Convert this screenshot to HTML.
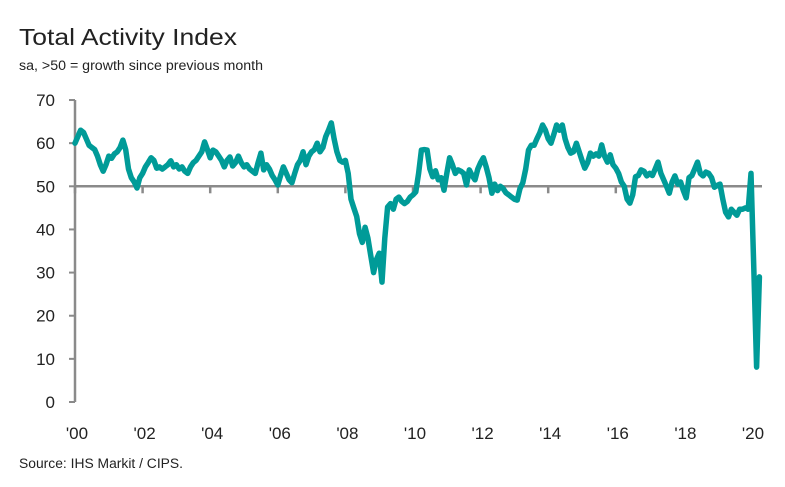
<!DOCTYPE html>
<html><head><meta charset="utf-8"><style>
body{margin:0;background:#fff;font-family:"Liberation Sans",sans-serif;}
svg{display:block}
</style></head><body>
<svg width="785" height="487" viewBox="0 0 785 487">
<text x="19" y="45" font-size="23" fill="#222" font-family="Liberation Sans, sans-serif" textLength="218" lengthAdjust="spacingAndGlyphs">Total Activity Index</text>
<text x="19" y="70" font-size="13.5" fill="#222" font-family="Liberation Sans, sans-serif" textLength="244" lengthAdjust="spacingAndGlyphs">sa, &gt;50 = growth since previous month</text>
<text x="19" y="468" font-size="13.5" fill="#222" font-family="Liberation Sans, sans-serif" textLength="164" lengthAdjust="spacingAndGlyphs">Source: IHS Markit / CIPS.</text>
<g id="axes"></g>
<g id="series"></g>
</svg>
<script>
const yTicks=[0,10,20,30,40,50,60,70];
const xTickLabels=["'00","'02","'04","'06","'08","'10","'12","'14","'16","'18","'20"];
const startYear=2000;
const values=[
60,61.5,63,62.5,61,59.5,59,58.5,57,55,53.5,55,
57,56.5,57.5,58,59,60.7,58.5,54,52,51,49.6,52,
53,54.5,55.5,56.6,56,54.2,54.5,54,54.5,55,55.9,54.5,
55,54,54.5,53.5,53,54.5,55.5,56,57,58,60.3,58.5,
56.6,58.4,58,57,56,54.5,56,56.8,54.7,55.5,57,55.5,
54.5,55,54,53.5,53,55.5,57.7,53.8,55,54,52.5,51.5,
50.3,52.5,54.5,53,51.5,50.8,53,55,56,58,55,57,
58,58.5,60,58,59,61.5,63,64.7,61,58,56,55.6,
56,53,47,45,43,39,37,40.5,38,34,30,33,
34.5,27.8,38,45.2,46,44.7,47,47.5,46.5,46,46.5,47.5,
48,48.7,53,58.4,58.5,58.4,54,52.2,53.6,51.5,52,49.1,
53,56.6,55,53,53.8,53.5,53,50.3,53.8,52.5,51.5,54,
55.5,56.6,54.5,52,48.4,50.5,49,50,49.5,48.5,48,47.5,
47,46.8,49.5,50.8,54,58.4,59.5,59.5,61,62.4,64.2,63,
61,60,62,64.2,63,64.2,61,59,57.7,58,60,58,
56,54.2,55.5,57.7,57,57.5,57,59.6,57,55.6,57.3,55,
54.2,53,51,50,47,46.1,48,52.2,52.5,53.8,53.5,52.4,
53,52.5,54,55.6,53,51.5,50,48.4,51,52.4,50.5,51,
49,47.3,52,52.5,54,55.6,53,52.4,53.3,53,52,49.8,
50.2,50.5,47,44,42.9,44.7,44,43.3,44.7,44.7,45,44.7,
53,31,8.1,29
];
const NS="http://www.w3.org/2000/svg";
const x0=75,pxPerYear=33.8,y0=402,pxPerUnit=4.314;
function xMonth(m){return x0+m*pxPerYear/12;}
function yVal(v){return y0-v*pxPerUnit;}
const axes=document.getElementById('axes');
function mk(tag,attrs,parent){const e=document.createElementNS(NS,tag);for(const k in attrs)e.setAttribute(k,attrs[k]);parent.appendChild(e);return e;}
const yAxis=mk('line',{x1:x0,y1:yVal(70),x2:x0,y2:y0,stroke:'#8a8a8a','stroke-width':2.5},axes);


yTicks.forEach(v=>{
  const t=mk('line',{x1:x0-6,y1:yVal(v),x2:x0,y2:yVal(v),stroke:'#8a8a8a','stroke-width':2},axes);
  
  
  const l=mk('text',{x:55,y:yVal(v)+6,'font-size':17,'text-anchor':'end',fill:'#222'},axes);
  l.textContent=v;
  
  
});
const ref=mk('line',{x1:x0,y1:yVal(50),x2:762,y2:yVal(50),stroke:'#8a8a8a','stroke-width':2.5},axes);


xTickLabels.forEach((lab,i)=>{
  const x=xMonth(i*24);
  const t=mk('line',{x1:x,y1:yVal(50),x2:x,y2:yVal(50)+7,stroke:'#8a8a8a','stroke-width':2.5},axes);
  
  
  const l=mk('text',{x:x+2,y:439,'font-size':17,'text-anchor':'middle',fill:'#222'},axes);
  l.textContent=lab;
  
  
});
const pts=values.map((v,i)=>xMonth(i).toFixed(1)+','+yVal(v).toFixed(1)).join(' ');
const line=mk('polyline',{points:pts,fill:'none',stroke:'#009b98','stroke-width':5.5,'stroke-linejoin':'round','stroke-linecap':'round'},document.getElementById('series'));


</script>
</body></html>
